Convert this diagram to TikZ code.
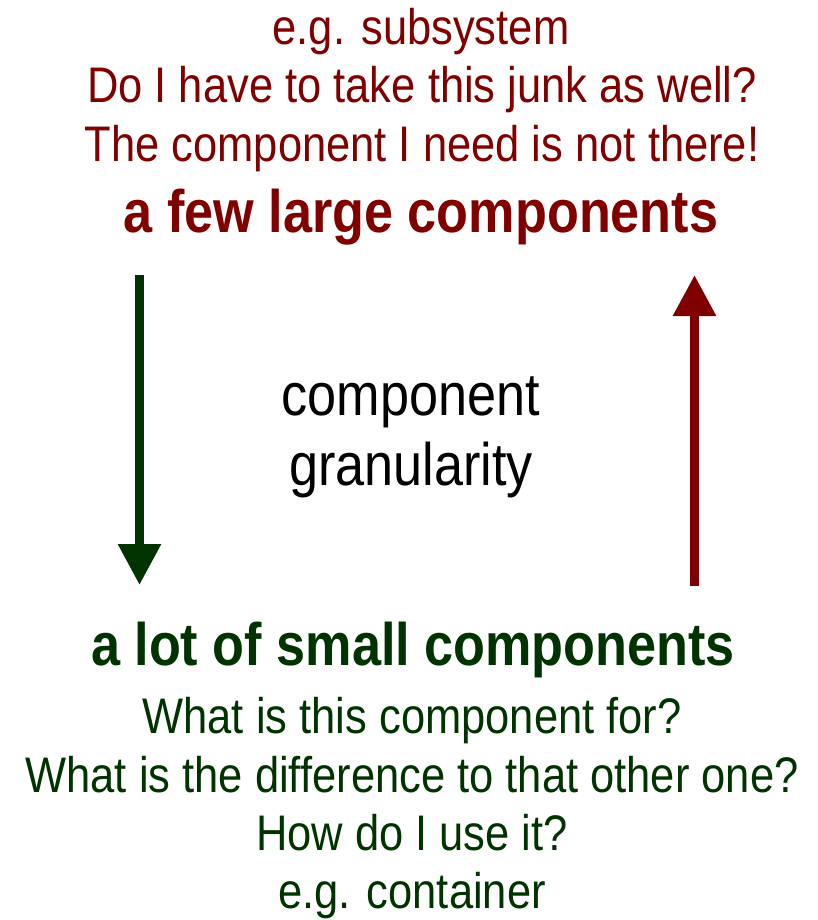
\documentclass[tikz,border=0pt]{standalone}
\usepackage{fontspec}
\setmainfont{Liberation Sans}[FakeStretch=0.87]
\usetikzlibrary{arrows.meta}
\definecolor{darkred}{HTML}{800000}
\definecolor{darkgreen}{HTML}{003300}
\begin{document}
\begin{tikzpicture}[x=1pt,y=-1pt,
  reg/.style={anchor=base,inner sep=0pt,font=\fontsize{50}{59}\selectfont},
  big/.style={anchor=base,inner sep=0pt,font=\fontsize{60}{70}\selectfont\bfseries},
  mid/.style={anchor=base,inner sep=0pt,font=\fontsize{60}{70}\selectfont},
  arr/.style={line width=9pt,-{Triangle[width=41pt,length=41pt]}}]
\useasboundingbox (0,0) rectangle (818,920);
% top group
\node[reg,text=darkred] (t1) at (421,45) {e.g. subsystem};
\node[reg,text=darkred] (t2) at (422,103) {Do I have to take this junk as well?};
\node[reg,text=darkred] (t3) at (422,162) {The component I need is not there!};
\node[big,text=darkred] (t4) at (421,232) {a few large components};
% middle
\node[mid] (m1) at (411,415) {component};
\node[mid] (m2) at (411,485) {granularity};
% bottom group
\node[big,text=darkgreen] (b1) at (413,665) {a lot of small components};
\node[reg,text=darkgreen] (b2) at (412,733) {What is this component for?};
\node[reg,text=darkgreen] (b3) at (412,792) {What is the difference to that other one?};
\node[reg,text=darkgreen] (b4) at (412,850) {How do I use it?};
\node[reg,text=darkgreen] (b5) at (412,908) {e.g. container};
% arrows
\coordinate (gs) at (139.5,275);
\coordinate (ge) at (139.5,585);
\coordinate (rs) at (694.5,586);
\coordinate (re) at (694.5,275);
\draw[arr,darkgreen] (gs) -- (ge);
\draw[arr,darkred] (rs) -- (re);
\end{tikzpicture}
\end{document}
